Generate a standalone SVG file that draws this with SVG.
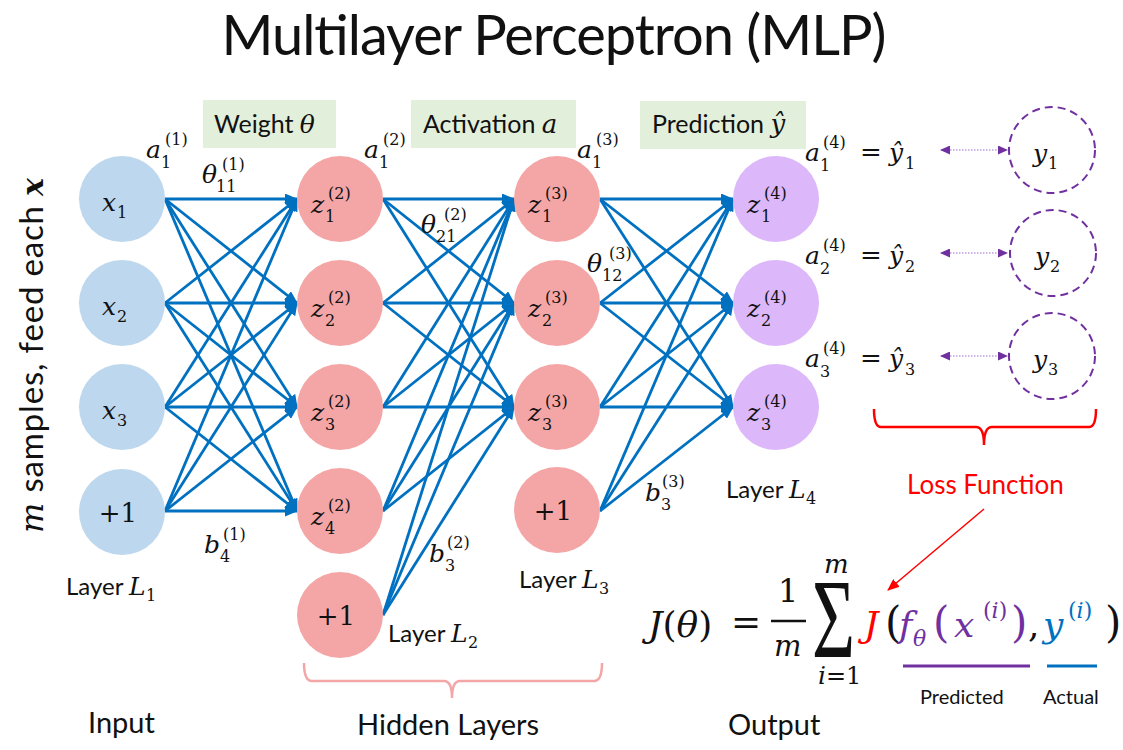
<svg xmlns="http://www.w3.org/2000/svg" width="1123" height="750" viewBox="0 0 1123 750">
<style>
.sans{font-family:Lato,"Liberation Sans",sans-serif;fill:#111}
.m{font-family:"DejaVu Serif",serif;font-style:italic;font-size:25px;fill:#111}
.s{font-family:"DejaVu Serif",serif;font-style:normal;font-size:16px;fill:#111}
.up{font-family:"DejaVu Serif",serif;font-style:normal;fill:#111}
.edge{stroke:#0070C0;stroke-width:2.8;fill:none;marker-end:url(#ah)}
.n1{fill:#BDD7EE}.n2{fill:#F4A6A7}.n4{fill:#DCB8FA}
.box{fill:#E2EFDA}
.dash{fill:none;stroke:#7030A0;stroke-width:2;stroke-dasharray:8 5}
.dot{stroke:#9B6FCB;stroke-width:1.2;stroke-dasharray:1.5 1.5;marker-start:url(#pa);marker-end:url(#pa)}
</style>
<defs>
<marker id="ah" markerUnits="userSpaceOnUse" markerWidth="13" markerHeight="11" refX="12" refY="5.5" orient="auto"><path d="M0,0 L13,5.5 L0,11 Z" fill="#0070C0"/></marker>
<marker id="pa" markerUnits="userSpaceOnUse" markerWidth="10" markerHeight="9" refX="9" refY="4.5" orient="auto-start-reverse"><path d="M0,0 L10,4.5 L0,9 Z" fill="#7030A0"/></marker>
<marker id="ra" markerUnits="userSpaceOnUse" markerWidth="12" markerHeight="10" refX="11" refY="5" orient="auto"><path d="M0,0 L12,5 L0,10 Z" fill="#FF0000"/></marker>
</defs>
<rect width="1123" height="750" fill="#fff"/>
<text class="sans" x="554" y="55" text-anchor="middle" font-size="56" textLength="665">Multilayer Perceptron (MLP)</text>
<g id="label-boxes">
<rect class="box" x="203" y="100" width="133" height="48"/>
<text x="214" y="133"><tspan class="sans" font-size="25">Weight </tspan><tspan class="m" style="font-size:25px">θ</tspan></text>
<rect class="box" x="411" y="100" width="165" height="48"/>
<text x="423" y="133"><tspan class="sans" font-size="25">Activation </tspan><tspan class="m" style="font-size:26px">a</tspan></text>
<rect class="box" x="640" y="101" width="166" height="48"/>
<text x="652" y="133"><tspan class="sans" font-size="25">Prediction </tspan><tspan class="m" style="font-size:26px">ŷ</tspan></text>
</g>
<g id="connectors">
<path class="edge" d="M165 199 L297 199"/><path class="edge" d="M165 199 L297 303"/><path class="edge" d="M165 199 L297 407"/><path class="edge" d="M165 199 L297 511"/>
<path class="edge" d="M165 303 L297 199"/><path class="edge" d="M165 303 L297 303"/><path class="edge" d="M165 303 L297 407"/><path class="edge" d="M165 303 L297 511"/>
<path class="edge" d="M165 407 L297 199"/><path class="edge" d="M165 407 L297 303"/><path class="edge" d="M165 407 L297 407"/><path class="edge" d="M165 407 L297 511"/>
<path class="edge" d="M165 511 L297 199"/><path class="edge" d="M165 511 L297 303"/><path class="edge" d="M165 511 L297 407"/><path class="edge" d="M165 511 L297 511"/>
<path class="edge" d="M383 199 L514 199"/><path class="edge" d="M383 199 L514 303"/><path class="edge" d="M383 199 L514 407"/>
<path class="edge" d="M383 303 L514 199"/><path class="edge" d="M383 303 L514 303"/><path class="edge" d="M383 303 L514 407"/>
<path class="edge" d="M383 407 L514 199"/><path class="edge" d="M383 407 L514 303"/><path class="edge" d="M383 407 L514 407"/>
<path class="edge" d="M383 511 L514 199"/><path class="edge" d="M383 511 L514 303"/><path class="edge" d="M383 511 L514 407"/>
<path class="edge" d="M383 615 L514 199"/><path class="edge" d="M383 615 L514 303"/><path class="edge" d="M383 615 L514 407"/>
<path class="edge" d="M600 199 L733 199"/><path class="edge" d="M600 199 L733 303"/><path class="edge" d="M600 199 L733 407"/>
<path class="edge" d="M600 303 L733 199"/><path class="edge" d="M600 303 L733 303"/><path class="edge" d="M600 303 L733 407"/>
<path class="edge" d="M600 407 L733 199"/><path class="edge" d="M600 407 L733 303"/><path class="edge" d="M600 407 L733 407"/>
<path class="edge" d="M600 511 L733 199"/><path class="edge" d="M600 511 L733 303"/><path class="edge" d="M600 511 L733 407"/>
<path class="dot" d="M941 150 L1007 150"/>
<path class="dot" d="M941 253 L1007 253"/>
<path class="dot" d="M941 356 L1007 356"/>
<path d="M984 509 L888 590" stroke="#FF0000" stroke-width="1.5" marker-end="url(#ra)"/>
</g>
<g id="edge-labels">
<text class="m" x="146" y="158">a</text><text class="s" x="161" y="168">1</text><text class="s" x="165" y="145">(1)</text>
<text class="m" x="202" y="183">θ</text><text class="s" x="216" y="192">11</text><text class="s" x="222" y="170">(1)</text>
<text class="m" x="364" y="158">a</text><text class="s" x="379" y="168">1</text><text class="s" x="383" y="145">(2)</text>
<text class="m" x="577" y="158">a</text><text class="s" x="592" y="168">1</text><text class="s" x="596" y="145">(3)</text>
<text class="m" x="421" y="233">θ</text><text class="s" x="436" y="242">21</text><text class="s" x="444" y="220">(2)</text>
<text class="m" x="587" y="272">θ</text><text class="s" x="602" y="281">12</text><text class="s" x="609" y="259">(3)</text>
<text class="m" x="204" y="553">b</text><text class="s" x="220" y="562">4</text><text class="s" x="223" y="540">(1)</text>
<text class="m" x="429" y="562">b</text><text class="s" x="445" y="571">3</text><text class="s" x="447" y="548">(2)</text>
<text class="m" x="645" y="501">b</text><text class="s" x="661" y="510">3</text><text class="s" x="662" y="487">(3)</text>
</g>
<g id="L1">
<g id="x1"><circle class="n1" cx="122" cy="199" r="43"/><text class="m" x="102" y="211">x</text><text class="s" x="117" y="218">1</text></g>
<g id="x2"><circle class="n1" cx="122" cy="303" r="43"/><text class="m" x="102" y="315">x</text><text class="s" x="117" y="322">2</text></g>
<g id="x3"><circle class="n1" cx="122" cy="407" r="43"/><text class="m" x="102" y="419">x</text><text class="s" x="117" y="426">3</text></g>
<g id="b1"><circle class="n1" cx="122" cy="512" r="43"/><text class="up" font-size="26" x="118" y="522" text-anchor="middle">+1</text></g>
</g>
<g id="L2">
<g id="z12"><circle class="n2" cx="340" cy="199" r="43"/><text class="m" x="311" y="213">z</text><text class="s" x="325" y="222">1</text><text class="s" x="328" y="199">(2)</text></g>
<g id="z22"><circle class="n2" cx="340" cy="303" r="43"/><text class="m" x="311" y="317">z</text><text class="s" x="325" y="326">2</text><text class="s" x="328" y="303">(2)</text></g>
<g id="z32"><circle class="n2" cx="340" cy="407" r="43"/><text class="m" x="311" y="421">z</text><text class="s" x="325" y="430">3</text><text class="s" x="328" y="407">(2)</text></g>
<g id="z42"><circle class="n2" cx="340" cy="511" r="43"/><text class="m" x="311" y="525">z</text><text class="s" x="325" y="534">4</text><text class="s" x="328" y="511">(2)</text></g>
<g id="b2"><circle class="n2" cx="340" cy="615" r="43"/><text class="up" font-size="26" x="336" y="625" text-anchor="middle">+1</text></g>
</g>
<g id="L3">
<g id="z13"><circle class="n2" cx="557" cy="199" r="43"/><text class="m" x="528" y="213">z</text><text class="s" x="542" y="222">1</text><text class="s" x="545" y="199">(3)</text></g>
<g id="z23"><circle class="n2" cx="557" cy="303" r="43"/><text class="m" x="528" y="317">z</text><text class="s" x="542" y="326">2</text><text class="s" x="545" y="303">(3)</text></g>
<g id="z33"><circle class="n2" cx="557" cy="407" r="43"/><text class="m" x="528" y="421">z</text><text class="s" x="542" y="430">3</text><text class="s" x="545" y="407">(3)</text></g>
<g id="b3"><circle class="n2" cx="557" cy="510" r="43"/><text class="up" font-size="26" x="553" y="520" text-anchor="middle">+1</text></g>
</g>
<g id="L4">
<g id="z14"><circle class="n4" cx="776" cy="199" r="43"/><text class="m" x="747" y="213">z</text><text class="s" x="761" y="222">1</text><text class="s" x="764" y="199">(4)</text></g>
<g id="z24"><circle class="n4" cx="776" cy="303" r="43"/><text class="m" x="747" y="317">z</text><text class="s" x="761" y="326">2</text><text class="s" x="764" y="303">(4)</text></g>
<g id="z34"><circle class="n4" cx="776" cy="407" r="43"/><text class="m" x="747" y="421">z</text><text class="s" x="761" y="430">3</text><text class="s" x="764" y="407">(4)</text></g>
</g>
<g id="outputs">
<text class="m" x="805" y="161">a</text><text class="s" x="820" y="171">1</text><text class="s" x="823" y="148">(4)</text><text class="up" font-size="26" x="860" y="161">=</text><text class="m" x="889" y="161">ŷ</text><text class="s" x="905" y="169">1</text>
<text class="m" x="805" y="264">a</text><text class="s" x="820" y="274">2</text><text class="s" x="823" y="251">(4)</text><text class="up" font-size="26" x="860" y="264">=</text><text class="m" x="889" y="264">ŷ</text><text class="s" x="905" y="272">2</text>
<text class="m" x="805" y="367">a</text><text class="s" x="820" y="377">3</text><text class="s" x="823" y="354">(4)</text><text class="up" font-size="26" x="860" y="367">=</text><text class="m" x="889" y="367">ŷ</text><text class="s" x="905" y="375">3</text>
</g>
<g id="y1"><circle class="dash" cx="1052" cy="150" r="43"/><text class="m" x="1033" y="162">y</text><text class="s" x="1048" y="169">1</text></g>
<g id="y2"><circle class="dash" cx="1053" cy="253" r="43"/><text class="m" x="1035" y="265">y</text><text class="s" x="1050" y="272">2</text></g>
<g id="y3"><circle class="dash" cx="1052" cy="356" r="43"/><text class="m" x="1033" y="368">y</text><text class="s" x="1048" y="375">3</text></g>
<g id="layer-labels">
<text x="66" y="595"><tspan class="sans" font-size="24">Layer </tspan><tspan class="m">L</tspan></text><text class="s" x="146" y="601">1</text>
<text x="388" y="642"><tspan class="sans" font-size="24">Layer </tspan><tspan class="m">L</tspan></text><text class="s" x="468" y="648">2</text>
<text x="519" y="588"><tspan class="sans" font-size="24">Layer </tspan><tspan class="m">L</tspan></text><text class="s" x="599" y="594">3</text>
<text x="726" y="498"><tspan class="sans" font-size="24">Layer </tspan><tspan class="m">L</tspan></text><text class="s" x="806" y="504">4</text>
</g>
<text transform="translate(43,533) rotate(-90)" textLength="355"><tspan class="m" style="font-size:32px">m</tspan><tspan class="sans" font-size="33"> samples, feed each </tspan><tspan class="m" style="font-size:30px" font-weight="bold">x</tspan></text>
<g id="brackets">
<path d="M304 663 Q304 681 312 681 L444 681 Q452 681 452 698 Q452 681 460 681 L594 681 Q602 681 602 663" fill="none" stroke="#F4A6A7" stroke-width="2.5"/>
<path d="M874 409 Q874 427 881 427 L976 427 Q984 427 984 445 Q984 427 992 427 L1089 427 Q1096 427 1096 409" fill="none" stroke="#FF0000" stroke-width="2.5"/>
</g>
<text class="sans" x="907" y="494" font-size="26" style="fill:#FF0000">Loss Function</text>
<g id="formula">
<text x="648" y="637"><tspan class="m" style="font-size:36px">J</tspan><tspan class="up" font-size="36">(</tspan><tspan class="m" style="font-size:36px">θ</tspan><tspan class="up" font-size="36">)</tspan></text>
<text class="up" x="731" y="634" font-size="36">=</text>
<text class="up" x="778" y="602" font-size="32">1</text>
<line x1="771" y1="621" x2="806" y2="621" stroke="#111" stroke-width="2.5"/>
<text class="m" x="774" y="656" style="font-size:29px">m</text>
<text x="0" y="0" transform="translate(812,657) scale(0.66,1)" font-size="112" style="font-family:'Liberation Serif',serif;fill:#111">Σ</text>
<text class="m" x="824" y="573" style="font-size:26px">m</text>
<text x="818" y="684"><tspan class="m" style="font-size:25px">i</tspan><tspan class="up" font-size="24">=1</tspan></text>
<text class="m" x="864" y="637" style="font-size:36px;fill:#FF0000">J</text>
<text class="up" x="885" y="637" font-size="42">(</text>
<text class="m" x="899" y="637" style="font-size:36px;fill:#7030A0">f</text>
<text class="m" x="913" y="646" style="font-size:22px;fill:#7030A0">θ</text>
<text class="up" x="933" y="637" font-size="42" style="fill:#7030A0">(</text>
<text class="m" x="954" y="637" style="font-size:36px;fill:#7030A0">x</text>
<text x="983" y="618"><tspan class="up" font-size="22" style="fill:#7030A0">(</tspan><tspan class="m" style="font-size:22px;fill:#7030A0">i</tspan><tspan class="up" font-size="22" style="fill:#7030A0">)</tspan></text>
<text class="up" x="1011" y="637" font-size="42" style="fill:#7030A0">)</text>
<text class="up" x="1028" y="637" font-size="36">,</text>
<text class="m" x="1043" y="637" style="font-size:36px;fill:#0070C0">y</text>
<text x="1068" y="618"><tspan class="up" font-size="22" style="fill:#0070C0">(</tspan><tspan class="m" style="font-size:22px;fill:#0070C0">i</tspan><tspan class="up" font-size="22" style="fill:#0070C0">)</tspan></text>
<text class="up" x="1105" y="637" font-size="42">)</text>
<line x1="903" y1="666" x2="1030" y2="666" stroke="#7030A0" stroke-width="3"/>
<line x1="1047" y1="666" x2="1097" y2="666" stroke="#0070C0" stroke-width="3"/>
<text class="sans" x="920" y="704" font-size="20">Predicted</text>
<text class="sans" x="1043" y="704" font-size="20">Actual</text>
</g>
<g id="bottom-labels">
<text class="sans" x="88" y="733" font-size="29">Input</text>
<text class="sans" x="357" y="735" font-size="29">Hidden Layers</text>
<text class="sans" x="728" y="735" font-size="29">Output</text>
</g>
</svg>
